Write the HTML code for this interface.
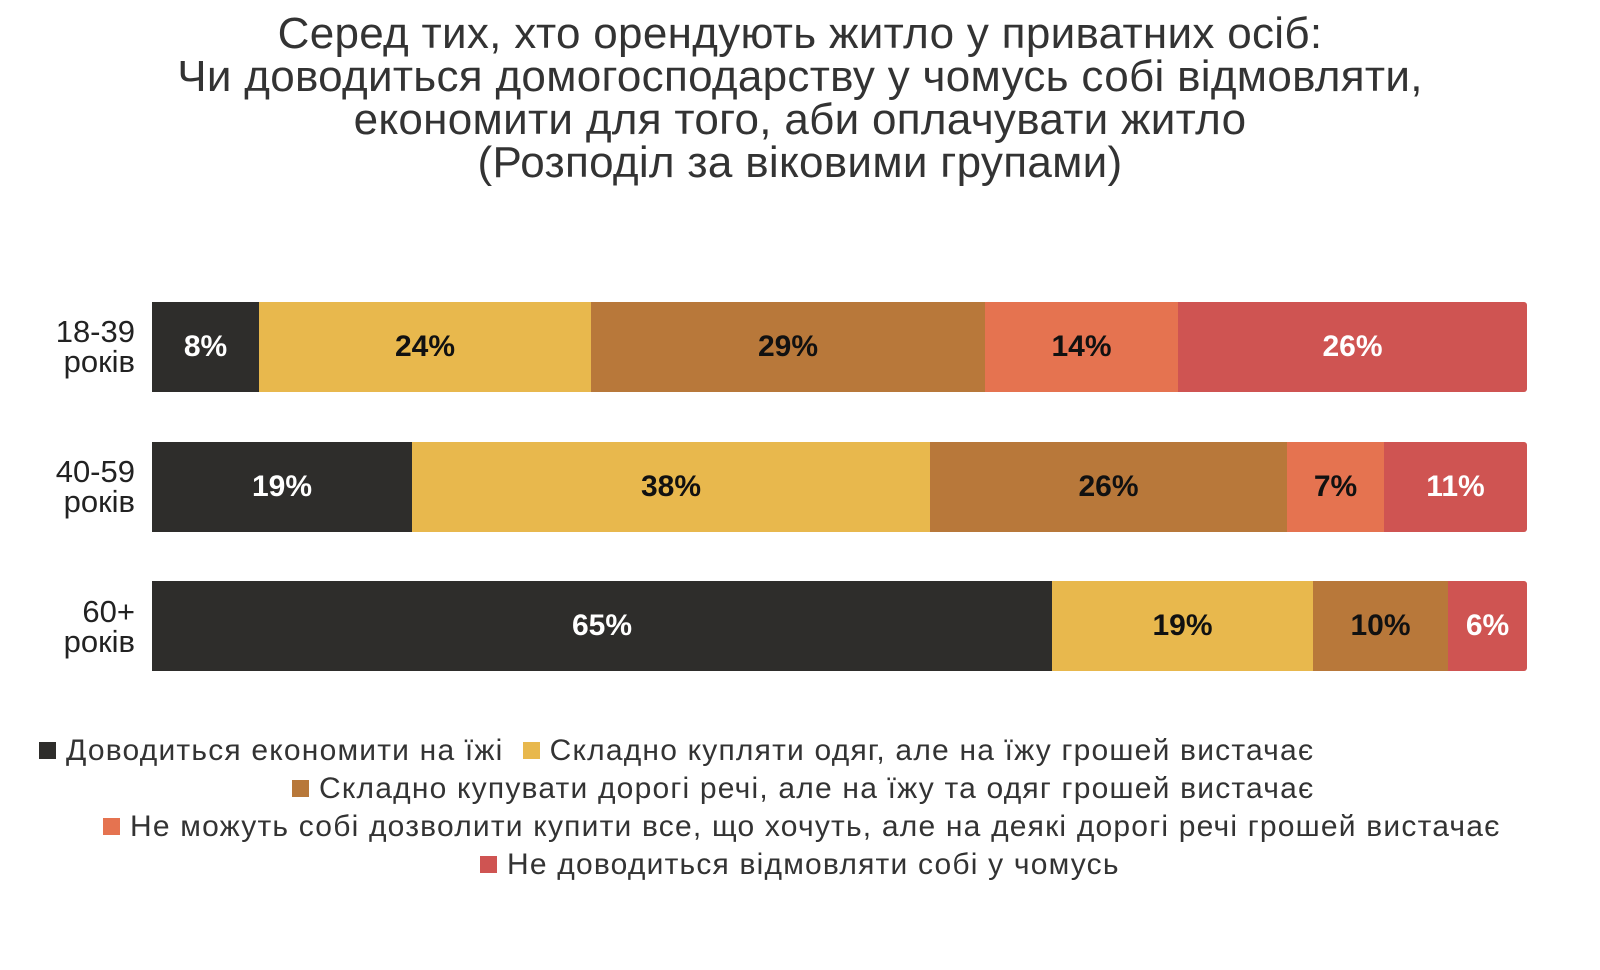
<!DOCTYPE html>
<html><head><meta charset="utf-8"><style>
body{margin:0;width:1600px;height:970px;background:#fff;font-family:"Liberation Sans",sans-serif;position:relative;overflow:hidden}
.t{position:absolute;left:0;width:1600px;text-align:center;font-size:44px;letter-spacing:0.3px;color:#333;line-height:43px;top:12px}
.bar{position:absolute;height:90px;}
.s{position:absolute;top:0;height:90px;display:flex;align-items:center;justify-content:center;font-weight:bold;font-size:30px}
.w{color:#fff}.k{color:#111}
.c1{background:#2e2d2b}.c2{background:#e8b84d}.c3{background:#b8783a}.c4{background:#e57350}.c5{background:#cf5452}
.yl{position:absolute;right:1465px;text-align:right;font-size:31px;line-height:30px;color:#222}
.lg{position:absolute;font-size:30px;letter-spacing:1.2px;color:#333;white-space:nowrap;line-height:30px}
.sq{display:inline-block;width:17px;height:17px;margin-right:10px;vertical-align:1px}
</style></head><body>
<div class="t">Серед тих, хто орендують житло у приватних осіб:<br>Чи доводиться домогосподарству у чомусь собі відмовляти,<br>економити для того, аби оплачувати житло<br>(Розподіл за віковими групами)</div>

<div class="yl" style="top:317px">18-39<br>років</div>
<div class="yl" style="top:457px">40-59<br>років</div>
<div class="yl" style="top:597px">60+<br>років</div>

<div class="bar" style="top:302px;left:0;width:1600px">
<div class="s c1 w" style="left:152px;width:107px">8%</div>
<div class="s c2 k" style="left:259px;width:332px">24%</div>
<div class="s c3 k" style="left:591px;width:394px">29%</div>
<div class="s c4 k" style="left:985px;width:193px">14%</div>
<div class="s c5 w" style="left:1178px;width:349px;border-radius:0 3px 3px 0">26%</div>
</div>
<div class="bar" style="top:442px;left:0;width:1600px">
<div class="s c1 w" style="left:152px;width:260px">19%</div>
<div class="s c2 k" style="left:412px;width:518px">38%</div>
<div class="s c3 k" style="left:930px;width:357px">26%</div>
<div class="s c4 k" style="left:1287px;width:97px">7%</div>
<div class="s c5 w" style="left:1384px;width:143px;border-radius:0 3px 3px 0">11%</div>
</div>
<div class="bar" style="top:581px;left:0;width:1600px">
<div class="s c1 w" style="left:152px;width:900px">65%</div>
<div class="s c2 k" style="left:1052px;width:261px">19%</div>
<div class="s c3 k" style="left:1313px;width:135px">10%</div>
<div class="s c5 w" style="left:1448px;width:79px;border-radius:0 3px 3px 0">6%</div>
</div>

<div class="lg" style="top:736px;left:39px"><span class="sq c1"></span>Доводиться економити на їжі &nbsp;<span class="sq c2"></span>Складно купляти одяг, але на їжу грошей вистачає</div>
<div class="lg" style="top:774px;left:292px"><span class="sq c3"></span>Складно купувати дорогі речі, але на їжу та одяг грошей вистачає</div>
<div class="lg" style="top:812px;left:103px"><span class="sq c4"></span>Не можуть собі дозволити купити все, що хочуть, але на деякі дорогі речі грошей вистачає</div>
<div class="lg" style="top:850px;left:480px"><span class="sq c5"></span>Не доводиться відмовляти собі у чомусь</div>
</body></html>
